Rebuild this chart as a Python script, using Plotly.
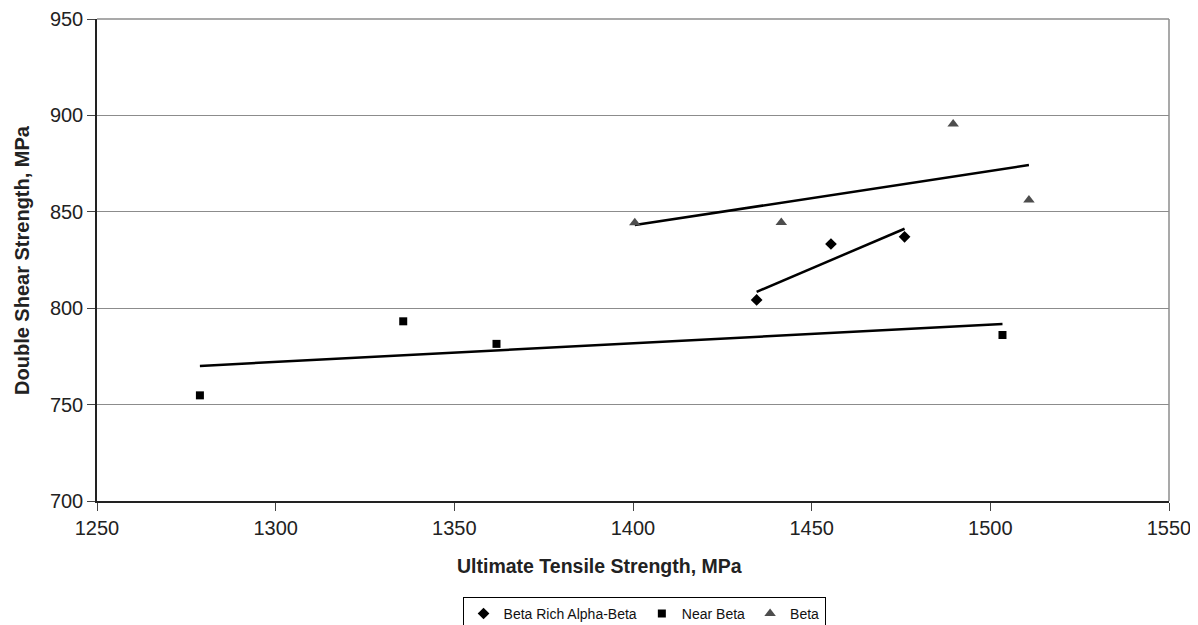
import numpy as np
import plotly.graph_objects as go

# Data
series_names = ["Beta Rich Alpha-Beta", "Near Beta", "Beta"]

brab_uts = [1434.6, 1455.4, 1476.0]
brab_dss = [804.3, 833.3, 837.0]

nb_uts = [1278.8, 1335.7, 1361.8, 1503.4]
nb_dss = [754.8, 793.2, 781.5, 786.1]

beta_uts = [1400.5, 1441.5, 1489.6, 1510.8]
beta_dss = [844.3, 844.5, 895.5, 856.1]

x_ticks = [1250, 1300, 1350, 1400, 1450, 1500, 1550]
y_ticks = [700, 750, 800, 850, 900, 950]

x_title = "Ultimate Tensile Strength, MPa"
y_title = "Double Shear Strength, MPa"

symbols = ["diamond", "square", "triangle-up"]
colors = ["#000000", "#000000", "#4d4d4d"]
sizes = [9, 8, 10]

fig = go.Figure()

data = [(brab_uts, brab_dss), (nb_uts, nb_dss), (beta_uts, beta_dss)]

# Linear trendlines (least squares over each series' x-range)
for xs, ys in data:
    xs_a = np.array(xs)
    ys_a = np.array(ys)
    m, c = np.polyfit(xs_a, ys_a, 1)
    xr = np.array([xs_a.min(), xs_a.max()])
    fig.add_trace(go.Scatter(x=xr, y=m * xr + c, mode="lines",
                             line=dict(color="black", width=2.5),
                             showlegend=False, hoverinfo="skip"))

for (xs, ys), name, sym, col, sz in zip(data, series_names, symbols, colors, sizes):
    fig.add_trace(go.Scatter(x=xs, y=ys, mode="markers", name=name,
                             marker=dict(symbol=sym, color=col, size=sz)))

font_family = "Liberation Sans, Arial, sans-serif"

# Page body has an 8px margin, so the figure is sized/offset to compensate
fig.update_layout(
    width=1190, height=617,
    margin=dict(l=89, r=29, t=11, b=124, autoexpand=False),
    paper_bgcolor="white", plot_bgcolor="white",
    font=dict(family=font_family, size=20, color="#222222"),
    showlegend=True,
    legend=dict(orientation="h", x=0.341, y=-0.199, xanchor="left", yanchor="top",
                bordercolor="black", borderwidth=1, font=dict(size=14, color="#111111"),
                itemsizing="trace", tracegroupgap=0, itemwidth=30),
    xaxis=dict(range=[1250, 1550], tickvals=x_ticks, showgrid=False,
               showline=True, linecolor="#222222", linewidth=1.5,
               ticks="outside", ticklen=8, tickcolor="#444444",
               zeroline=False, automargin=False),
    yaxis=dict(range=[700, 950], tickvals=y_ticks, showgrid=True,
               gridcolor="#8c8c8c", gridwidth=1,
               showline=True, linecolor="#222222", linewidth=1.5,
               ticks="outside", ticklen=8, tickcolor="#444444",
               zeroline=False, automargin=False),
    annotations=[
        dict(text="<b>" + x_title + "</b>", xref="paper", yref="paper",
             x=0.469, y=-0.135, xanchor="center", yanchor="middle",
             showarrow=False, font=dict(size=19.5, color="#222222")),
        dict(text="<b>" + y_title + "</b>", xref="paper", yref="paper",
             x=-0.070, y=0.5, xanchor="center", yanchor="middle", textangle=-90,
             showarrow=False, font=dict(size=20, color="#222222")),
    ],
)

# Gray plot-area frame (top and right)
fig.add_shape(type="line", xref="paper", yref="paper", x0=0, x1=1, y0=1, y1=1,
              line=dict(color="#8c8c8c", width=1.5), layer="below")
fig.add_shape(type="line", xref="paper", yref="paper", x0=1, x1=1, y0=0, y1=1,
              line=dict(color="#8c8c8c", width=1.5), layer="below")

fig.write_html("out.html")
